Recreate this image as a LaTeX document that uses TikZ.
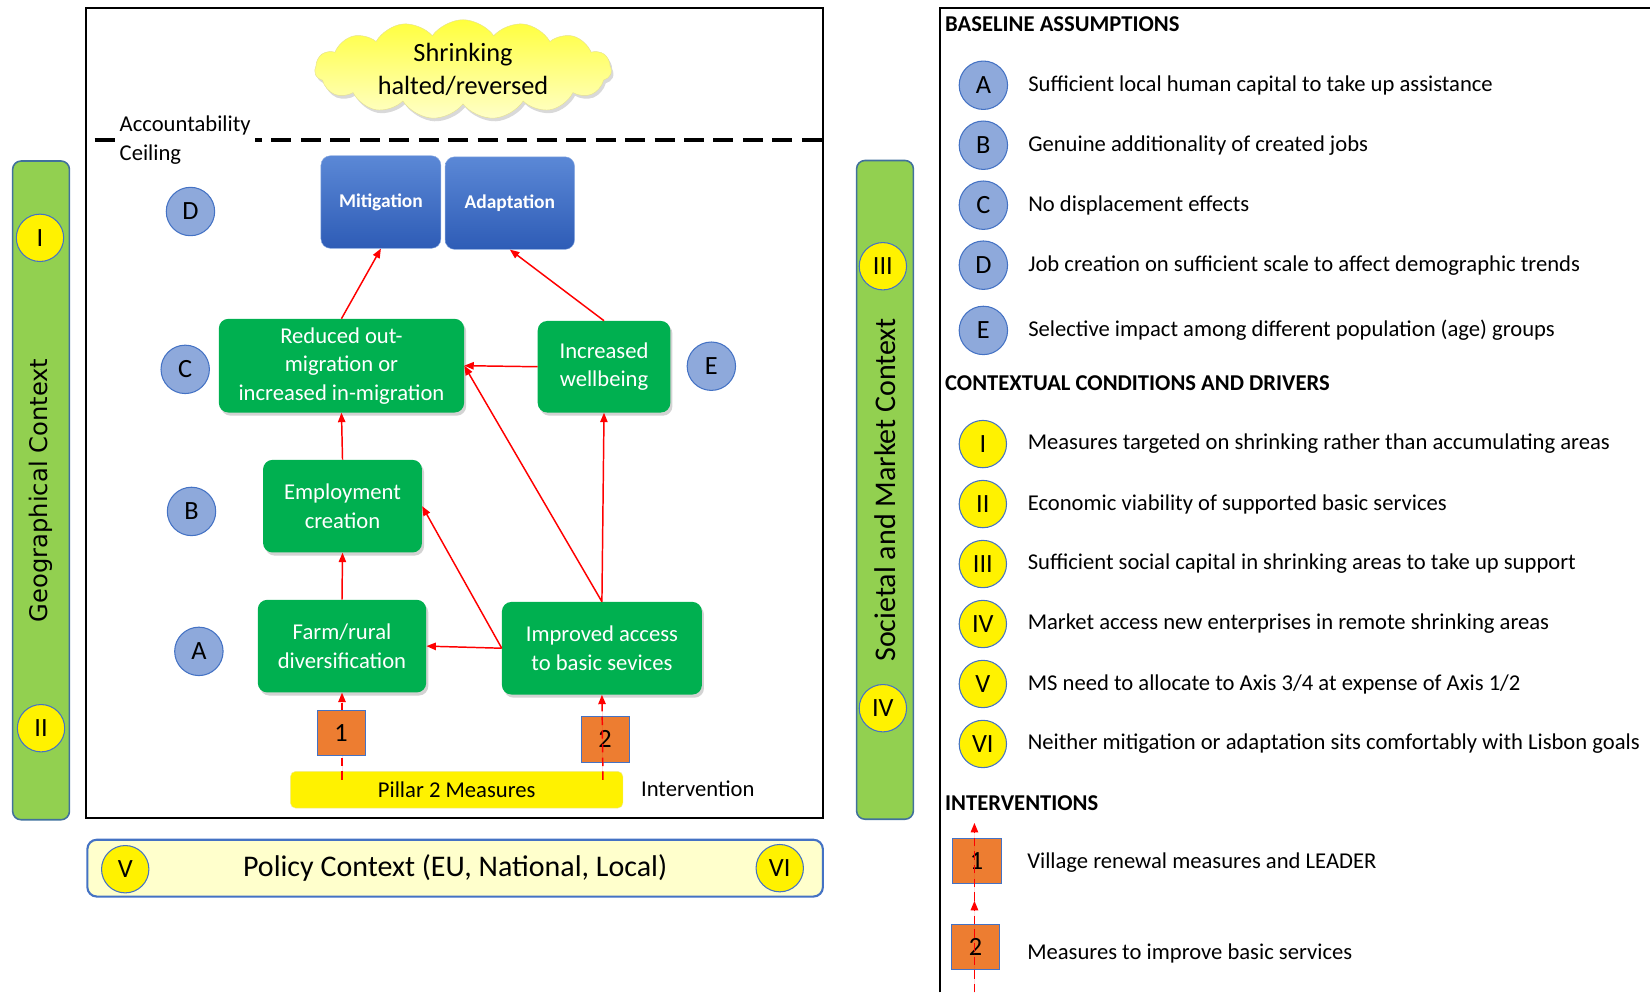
\documentclass[tikz,border=0pt]{standalone}
\usepackage{fontspec}
\setmainfont{Carlito}
\newfontfamily\barfont{DejaVu Sans}
\usetikzlibrary{arrows.meta,positioning,shapes.symbols,shadows}
\definecolor{boxgreen}{HTML}{00B050}
\definecolor{bargreen}{HTML}{92D050}
\definecolor{barblue}{HTML}{41719C}
\definecolor{circborder}{HTML}{4472C4}
\definecolor{assumblue}{HTML}{8EA9DB}
\definecolor{bluetop}{HTML}{5B88D6}
\definecolor{bluebot}{HTML}{2E5CB6}
\definecolor{numorange}{HTML}{ED7D31}
\definecolor{policyfill}{HTML}{FFFFCC}
\definecolor{cloudtop}{HTML}{FFFF3C}
\definecolor{cloudbot}{HTML}{FFFFC8}

\begin{document}
\begin{tikzpicture}[x=1pt, y=-1pt,
   mainframe/.style={draw, line width=2pt},
   ctxbar/.style={draw=barblue, line width=1.5pt, fill=bargreen, rounded corners=8pt,
      minimum width=626pt, minimum height=54pt, inner sep=0pt},
   policybar/.style={draw=circborder, line width=2pt, fill=policyfill, rounded corners=9pt,
      minimum width=699pt, minimum height=54pt, font=\fontsize{28.5}{28.5}\selectfont},
   greenbox/.style={fill=boxgreen, rounded corners=9pt, align=center, text=white,
      inner sep=0pt, font=\fontsize{21.5}{27}\selectfont,
      drop shadow={opacity=0.35, shadow xshift=2pt, shadow yshift=-3pt}},
   bluebox/.style={draw=bluetop!70!white, top color=bluetop, bottom color=bluebot,
      rounded corners=9pt, text=white, minimum height=88pt, inner sep=0pt,
      font=\bfseries\fontsize{18.5}{20}\selectfont},
   shrinkcloud/.style={cloud, cloud puffs=15, cloud puff arc=110, cloud ignores aspect,
      draw=yellow!60!gray!60, top color=cloudtop, bottom color=cloudbot,
      minimum width=282pt, minimum height=68pt,
      inner sep=0pt, align=center, font=\fontsize{25}{32}\selectfont,
      drop shadow={opacity=0.3, shadow xshift=2pt, shadow yshift=-3pt}},
   assum/.style={circle, draw=circborder, line width=1pt, fill=assumblue,
      minimum size=46pt, inner sep=0pt, font=\fontsize{25}{25}\selectfont},
   cond/.style={circle, draw=circborder, line width=1pt, fill=yellow,
      minimum size=45pt, inner sep=0pt, font=\fontsize{25}{25}\selectfont},
   numbox/.style={draw=circborder, fill=numorange, minimum width=46pt, minimum height=43pt,
      inner sep=0pt, font=\fontsize{25}{25}\selectfont},
   pillarbox/.style={draw=yellow!70!gray!50, fill=yellow, rounded corners=5pt,
      minimum width=316pt, minimum height=35pt, inner sep=0pt, font=\fontsize{21.5}{21.5}\selectfont},
   arrow/.style={-{Triangle[length=9pt,width=7pt]}, draw=red, fill=red, line width=1.4pt},
   dasharrow/.style={arrow, dash pattern=on 8pt off 5pt},
   ceilingline/.style={draw, line width=3pt, dash pattern=on 19pt off 9pt},
   plain/.style={font=\fontsize{21.5}{28}\selectfont},
   legtext/.style={anchor=west, inner sep=0pt, font=\fontsize{21.5}{23}\selectfont},
   heading/.style={anchor=west, inner sep=0pt, font=\bfseries\fontsize{21.5}{23}\selectfont}
]
\useasboundingbox (0,0) rectangle (1568,943);

\draw[mainframe] (82,8) rectangle (782,777);
\draw[mainframe] (893,943) -- (893,8) -- (1568,8);

\coordinate (ceilW) at (90,133);
\coordinate (ceilE) at (782,133);
\draw[ceilingline] (ceilW) -- (ceilE);
\node[plain, fill=white, align=left, inner sep=4pt] (ceiling) at (176,133)
   {Accountability\\Ceiling};

\node[shrinkcloud] (shrink) at (440,66) {Shrinking\\halted/reversed};

\node[bluebox, minimum width=114pt] (mitig) at (362,192) {Mitigation};
\node[bluebox, minimum width=123pt] (adapt) at (484.5,193) {Adaptation};

\node[greenbox, minimum width=233pt, minimum height=89pt] (reduced) at (324.5,347.5)
   {Reduced out-\\migration or\\increased in-migration};
\node[greenbox, minimum width=126pt, minimum height=87pt] (wellbeing) at (574,348.5)
   {Increased\\wellbeing};
\node[greenbox, minimum width=151pt, minimum height=88pt] (employ) at (325.5,481)
   {Employment\\creation};
\node[greenbox, minimum width=160pt, minimum height=88pt] (farm) at (325,614)
   {Farm/rural\\diversification};
\node[greenbox, minimum width=190pt, minimum height=88pt] (improved) at (572,616)
   {Improved access\\to basic sevices};

\node[assum] (circD) at (181,201) {D};
\node[assum] (circC) at (176,351) {C};
\node[assum] (circB) at (182,486) {B};
\node[assum] (circA) at (189,619) {A};
\node[assum] (circE) at (676,348) {E};

\node[pillarbox] (pillar) at (434,750.5) {Pillar 2 Measures};
\node[plain, anchor=west, inner sep=0pt] (interv) at (609,750) {Intervention};

\draw[arrow] (reduced.north) -- (mitig.south);
\draw[arrow] (wellbeing.north) -- (adapt.south);
\draw[arrow] (wellbeing.west) -- (reduced.east);
\draw[arrow] (employ.north) -- (reduced.south);
\draw[arrow] (farm.north) -- (employ.south);
\draw[arrow] (improved.west) -- (farm.east);
\draw[arrow] (improved.west) -- (employ.east);
\draw[arrow] (improved.north) -- (reduced.east);
\draw[arrow] (improved.north) -- (wellbeing.south);

\coordinate (pillarL) at (325,741);
\coordinate (pillarR) at (573,741);
\draw[dasharrow] (pillarL) -- (farm.south);
\node[numbox] (num1) at (324,696.5) {1};
\node[numbox] (num2) at (575,702.5) {2};
\draw[dasharrow] (pillarR) -- (improved.south);

\node[ctxbar, rotate=90, font=\barfont\fontsize{23}{23}\selectfont] (geo) at (39,466)
   {Geographical Context};
\node[cond] (condI) at (38,226) {I};
\node[cond] (condII) at (39,692) {II};
\node[ctxbar, rotate=90, font=\fontsize{28.5}{28.5}\selectfont] (societal) at (841,465.5)
   {Societal and Market Context};
\node[cond] (condIII) at (839,253) {III};
\node[cond] (condIV) at (839,673) {IV};

\node[policybar] (policy) at (432.5,825) {Policy Context (EU, National, Local)};
\node[cond] (condV) at (119,826) {V};
\node[cond] (condVI) at (741,825) {VI};

\node[heading] (baseline) at (898,23) {BASELINE ASSUMPTIONS};
\node[assum] (legA) at (934.5,81) {A};
\node[assum] (legB) at (934.5,138) {B};
\node[assum] (legC) at (934.5,195) {C};
\node[assum] (legD) at (934.5,252) {D};
\node[assum] (legE) at (934.5,314) {E};
\node[legtext, right=19pt of legA] {Sufficient local human capital to take up assistance};
\node[legtext, right=19pt of legB] {Genuine additionality of created jobs};
\node[legtext, right=19pt of legC] {No displacement effects};
\node[legtext, right=19pt of legD] {Job creation on sufficient scale to affect demographic trends};
\node[legtext, right=19pt of legE] {Selective impact among different population (age) groups};

\node[heading] (contextual) at (898,364) {CONTEXTUAL CONDITIONS AND DRIVERS};
\node[cond] (legI) at (934,422) {I};
\node[cond] (legII) at (934,479) {II};
\node[cond] (legIII) at (934,536) {III};
\node[cond] (legIV) at (934,593) {IV};
\node[cond] (legV) at (934,650) {V};
\node[cond] (legVI) at (934,707) {VI};
\node[legtext, right=19.5pt of legI] {Measures targeted on shrinking rather than accumulating areas};
\node[legtext, right=19.5pt of legII] {Economic viability of supported basic services};
\node[legtext, right=19.5pt of legIII] {Sufficient social capital in shrinking areas to take up support};
\node[legtext, right=19.5pt of legIV] {Market access new enterprises in remote shrinking areas};
\node[legtext, right=19.5pt of legV] {MS need to allocate to Axis 3/4 at expense of Axis 1/2};
\node[legtext, right=19.5pt of legVI] {Neither mitigation or adaptation sits comfortably with Lisbon goals};

\node[heading] (interventions) at (898,763) {INTERVENTIONS};
\node[numbox] (leg1) at (928,818) {1};
\node[numbox] (leg2) at (927,900) {2};
\node[legtext] at (976,820) {Village renewal measures and LEADER};
\node[legtext] at (976,906) {Measures to improve basic services};
\coordinate (legBot) at (926,943);
\coordinate (legMid) at (926,856);
\coordinate (legTop) at (926,782);
\draw[dasharrow] (legBot) -- (legMid);
\draw[dasharrow] (legMid) -- (legTop);
\end{tikzpicture}
\end{document}
